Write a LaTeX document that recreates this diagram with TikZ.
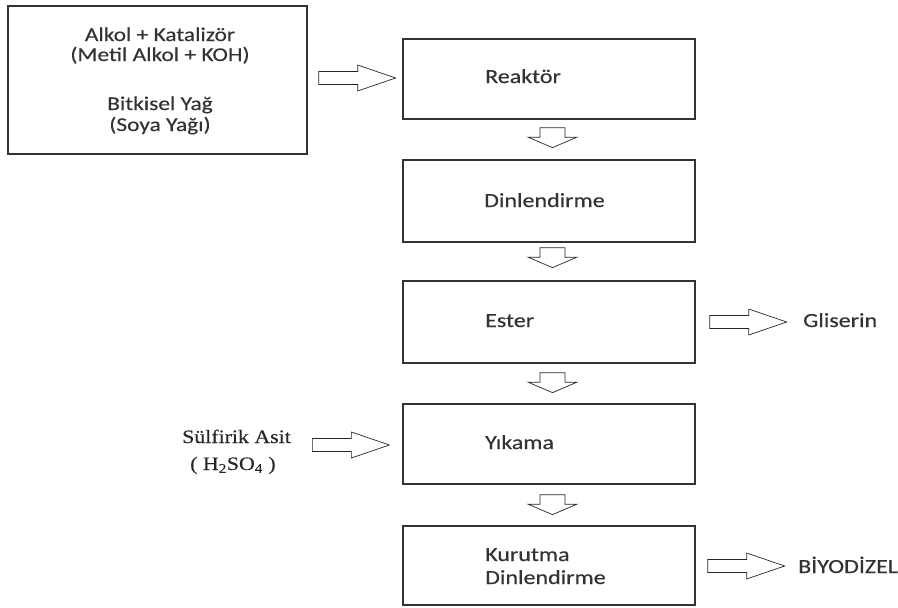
\documentclass[tikz,border=0pt]{standalone}
\usepackage{fontspec}
\setmainfont{Carlito}[FakeStretch=1.2,FakeBold=0.35]
\newfontfamily\tnr{Liberation Serif}[FakeStretch=1.15,FakeBold=0.3]
\usetikzlibrary{calc}
\begin{document}
\begin{tikzpicture}[x=1pt,y=-1pt,
  box/.style={draw=black!80, line width=1.3pt, minimum width=292pt, inner sep=0pt},
  lbl/.style={inner sep=0pt, anchor=base west, font=\fontsize{20}{23}\selectfont, text=black!80},
  clbl/.style={inner sep=0pt, anchor=base, font=\fontsize{19.5}{23}\selectfont, text=black!80},
  slbl/.style={inner sep=0pt, anchor=base west, font=\tnr\fontsize{19}{22}\selectfont, text=black!85},
  arrline/.style={draw=black!85, line width=0.7pt, fill=white},
  rblock/.pic={\path[arrline] (0,-6.5) -- (39,-6.5) -- (39,-13) -- (77,0) -- (39,13) -- (39,6.5) -- (0,6.5) -- cycle;},
  dblock/.pic={\path[arrline] (-12.5,0) -- (12.5,0) -- (12.5,9.5) -- (24.5,9.5) -- (0,20) -- (-24.5,9.5) -- (-12.5,9.5) -- cycle;}
]
\useasboundingbox (0,0) rectangle (898,608);
% source box
\node[box, minimum width=299pt, minimum height=148pt] (src) at (157.5,80) {};
\node[clbl] (t1) at (160,41) {Alkol + Katalizör};
\node[clbl] (t2) at (160,61) {(Metil Alkol + KOH)};
\node[clbl] (t3) at (160,110) {Bitkisel Yağ};
\node[clbl] (t4) at (160,131) {(Soya Yağı)};
% process boxes
\node[box, minimum height=80pt] (reak) at (549,79) {};
\node[box, minimum height=82pt] (dinl) at (549,201) {};
\node[box, minimum height=82pt] (ester) at (549,322) {};
\node[box, minimum height=80pt] (yik) at (549,444) {};
\node[box, minimum height=79pt] (kur) at (549,565.5) {};
\node[lbl] (treak) at (485,83) {Reaktör};
\node[lbl] (tdinl) at (484,207) {Dinlendirme};
\node[lbl] (tester) at (485,327) {Ester};
\node[lbl] (tyik) at (485,449) {Yıkama};
\node[lbl] (tkur1) at (485,561) {Kurutma};
\node[lbl] (tkur2) at (485,584) {Dinlendirme};
% side labels
\node[lbl] (glis) at (803,327) {Gliserin};
\node[lbl] (biyo) at (798,573) {BİYODİZEL};
\node[slbl] (sulf1) at (182,443) {Sülfirik Asit};
\node[slbl] (sulf2) at (190,470) {( H\textsubscript{2}SO\textsubscript{4} )};
% down arrows
\pic at ($(reak.south)+(3.5,8)$) {dblock};
\pic at ($(dinl.south)+(3.5,5)$) {dblock};
\pic at ($(ester.south)+(3.5,9)$) {dblock};
\pic at ($(yik.south)+(3.5,10)$) {dblock};
% right arrows
\pic at ($(src.east)+(11,-2)$) {rblock};
\pic at ($(ester.east)+(14,0)$) {rblock};
\pic at ($(yik.west)+(-90,1)$) {rblock};
\pic at ($(kur.east)+(12,0.5)$) {rblock};
\end{tikzpicture}
\end{document}
